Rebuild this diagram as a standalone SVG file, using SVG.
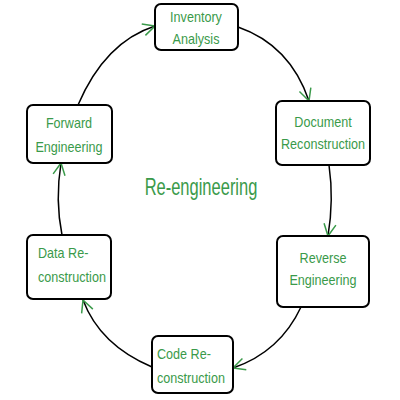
<svg xmlns="http://www.w3.org/2000/svg" width="400" height="400" viewBox="0 0 400 400">
<style>
.box{fill:#fff;stroke:#000;stroke-width:2}
.t{font-family:"Liberation Sans",Arial,sans-serif;font-size:12.6px;fill:#3a9a4a}
.c{text-anchor:middle}
.con{fill:none;stroke:#000;stroke-width:1.5}
</style>
<defs>
<marker id="ah" viewBox="0 0 14 14" refX="13" refY="7" markerWidth="14" markerHeight="14" markerUnits="userSpaceOnUse" orient="auto">
<path d="M1,1 L13,7 L1,13" fill="none" stroke="#3a9a4a" stroke-width="1.5"/>
</marker>
</defs>
<rect width="400" height="400" fill="#fff"/>
<g id="connectors">
<path class="con" d="M238,27 Q290,45 309,101" marker-end="url(#ah)"/>
<path class="con" d="M329,165 Q334,200 328,236" marker-end="url(#ah)"/>
<path class="con" d="M301,307 Q280,352 233,368" marker-end="url(#ah)"/>
<path class="con" d="M152,367 Q100,345 83,300" marker-end="url(#ah)"/>
<path class="con" d="M62,235 Q55,200 61,163" marker-end="url(#ah)"/>
<path class="con" d="M78,105 Q105,42 155,26" marker-end="url(#ah)"/>
</g>
<g id="inventory">
<rect class="box" x="155" y="4" width="83" height="46" rx="6"/>
<text class="t c" transform="translate(196,22) scale(1,1.2)">Inventory</text>
<text class="t c" transform="translate(196,44) scale(1,1.2)">Analysis</text>
</g>
<g id="document">
<rect class="box" x="276" y="101" width="94" height="64" rx="6"/>
<text class="t c" transform="translate(323,127) scale(1,1.2)">Document</text>
<text class="t c" transform="translate(323,149) scale(1,1.2)">Reconstruction</text>
</g>
<g id="reverse">
<rect class="box" x="277" y="236" width="92" height="71" rx="6"/>
<text class="t c" transform="translate(323,263) scale(1,1.2)">Reverse</text>
<text class="t c" transform="translate(323,285) scale(1,1.2)">Engineering</text>
</g>
<g id="code">
<rect class="box" x="152" y="336" width="81" height="57" rx="6"/>
<text class="t" transform="translate(157,359) scale(1,1.2)">Code Re-</text>
<text class="t" transform="translate(157,383) scale(1,1.2)">construction</text>
</g>
<g id="data">
<rect class="box" x="27" y="235" width="84" height="64" rx="6"/>
<text class="t" transform="translate(38,258) scale(1,1.2)">Data Re-</text>
<text class="t" transform="translate(38,282) scale(1,1.2)">construction</text>
</g>
<g id="forward">
<rect class="box" x="27" y="105" width="85" height="58" rx="6"/>
<text class="t c" transform="translate(69,128) scale(1,1.2)">Forward</text>
<text class="t c" transform="translate(69,152) scale(1,1.2)">Engineering</text>
</g>
<g id="title">
<text class="t c" style="font-size:16.5px" transform="translate(201,195) scale(1,1.5)">Re-engineering</text>
</g>
</svg>
